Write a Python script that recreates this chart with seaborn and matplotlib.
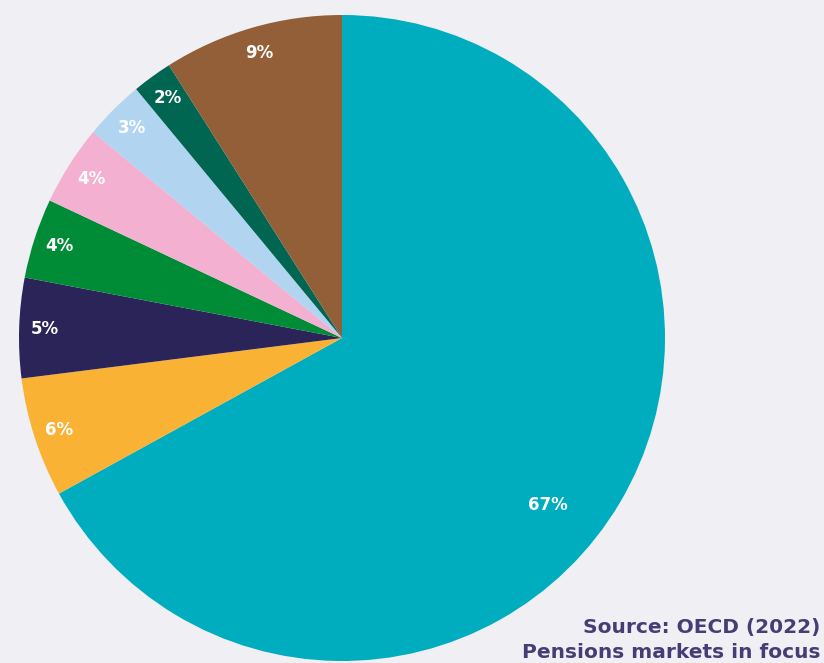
import numpy as np
import matplotlib
matplotlib.use("Agg")
import matplotlib.pyplot as plt
import seaborn as sns

# Data (clockwise from 12 o'clock)
shares = [67, 6, 5, 4, 4, 3, 2, 9]
colors = ["#00ADBF", "#F9B233", "#2A2459", "#008C37", "#F3B0D0", "#B1D4F1", "#006651", "#935F38"]
source_lines = ["Source: OECD (2022)", "Pensions markets in focus"]

BG = "#EFEFF4"
sns.set_theme(style="white", rc={"figure.facecolor": BG, "axes.facecolor": BG})
plt.rcParams['font.family'] = ['DejaVu Sans']

fig = plt.figure(figsize=(8.24, 6.63), dpi=100)
ax = fig.add_axes([19 / 824, 2 / 663, 646 / 824, 646 / 663])
palette = sns.color_palette(colors)

wedges, texts, autotexts = ax.pie(
    shares, colors=palette, startangle=90, counterclock=False,
    autopct=lambda p: f"{p:.0f}%", pctdistance=0.92,
    wedgeprops=dict(linewidth=0), radius=1,
    textprops=dict(color="white", fontsize=12, fontweight="bold"),
)
# Big slice label sits further inside
w = wedges[0]
ang = np.deg2rad((w.theta1 + w.theta2) / 2 - 8.5)
autotexts[0].set_position((0.82 * np.cos(ang), 0.82 * np.sin(ang)))

ax.set_xlim(-1, 1)
ax.set_ylim(-1, 1)
ax.set_aspect("equal")
ax.axis("off")

fig.text(820 / 824, 1 - 627 / 663, source_lines[0], ha="right", va="center",
         fontsize=14.5, fontweight="bold", color="#473D75")
fig.text(820 / 824, 1 - 652 / 663, source_lines[1], ha="right", va="center",
         fontsize=14.5, fontweight="bold", color="#473D75")

fig.savefig("out.png", dpi=100, facecolor=BG)
